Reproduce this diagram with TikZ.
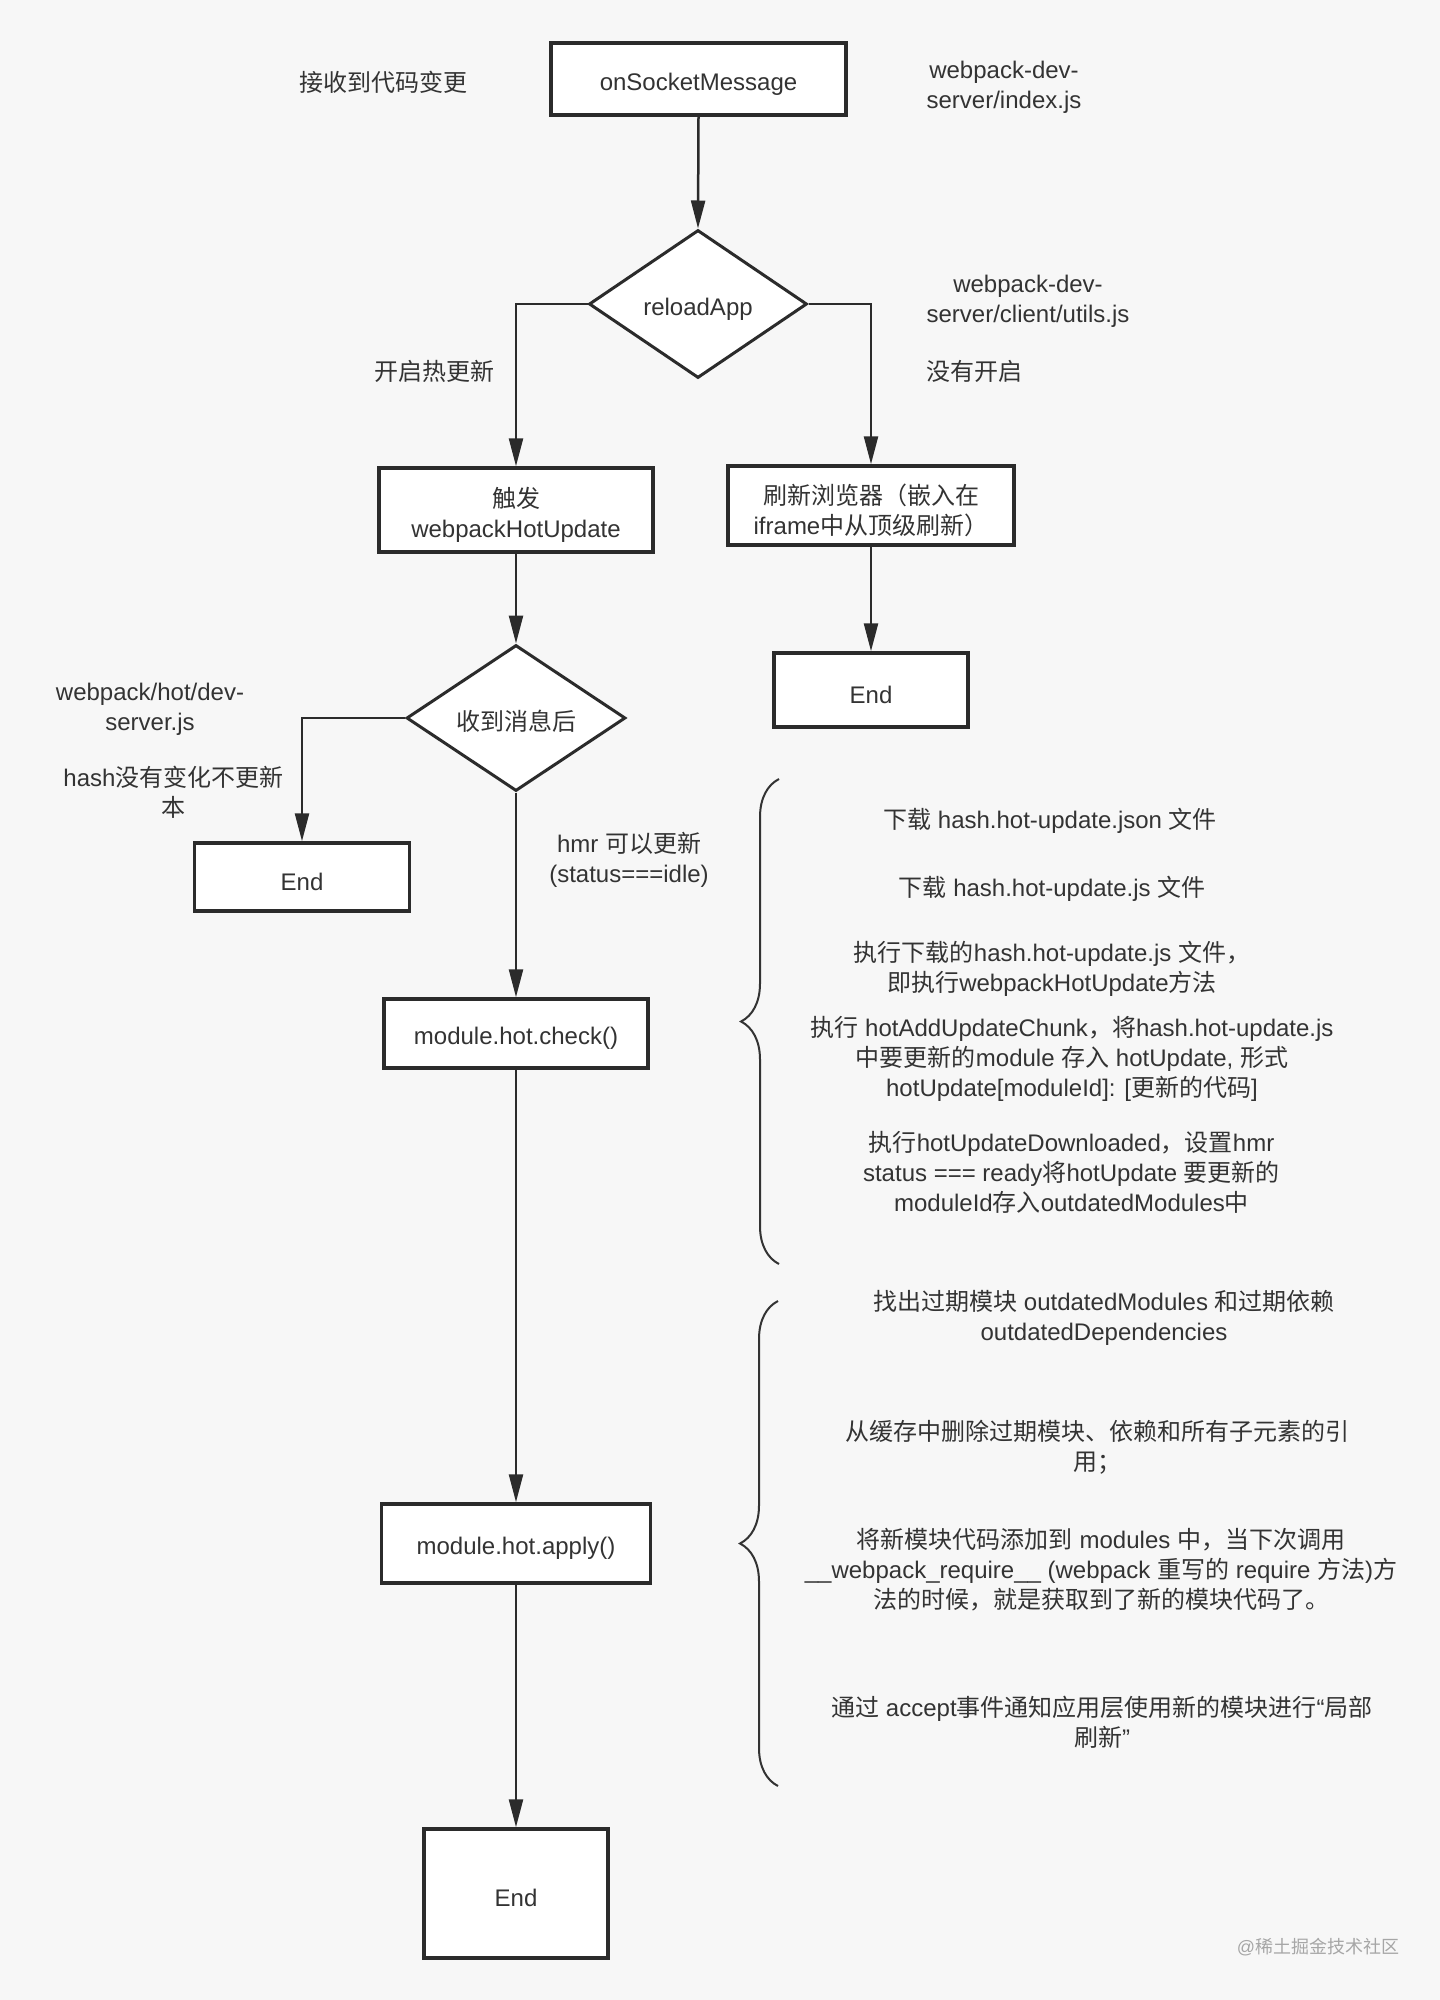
\documentclass[tikz,border=0pt]{standalone}
\usepackage{fontspec}
\setmainfont{Liberation Sans}
\newfontfamily\cjkfont{Noto Sans CJK SC}
\newfontfamily\latfont{Liberation Sans}
\usetikzlibrary{arrows.meta,shapes.geometric,decorations.pathreplacing}
\newXeTeXintercharclass\mycjkclass
\makeatletter
\newcount\my@c
\def\my@setrange#1#2{\my@c=#1\relax\loop\ifnum\my@c<#2\relax\XeTeXcharclass\my@c=\mycjkclass\advance\my@c by 1\relax\repeat}
\my@setrange{"3000}{"3040}
\my@setrange{"4E00}{"A000}
\my@setrange{"FF00}{"FFF0}
\makeatother
\XeTeXinterchartoks 0 \mycjkclass = {\cjkfont}
\XeTeXinterchartoks 4095 \mycjkclass = {\cjkfont}
\XeTeXinterchartoks \mycjkclass 0 = {\latfont}
\XeTeXinterchartoks \mycjkclass 4095 = {\latfont}
\XeTeXinterchartokenstate=1
\definecolor{bg}{HTML}{F7F7F7}
\definecolor{ln}{HTML}{2B2B2B}
\definecolor{tx}{HTML}{333333}
\begin{document}
\begin{tikzpicture}[x=1pt,y=-1pt,
  txt/.style={align=center,text=tx,inner sep=0pt,font=\fontsize{24}{30}\selectfont},
  box/.style={draw=ln,fill=white,line width=3.5pt,inner sep=0pt},
  dia/.style={diamond,draw=ln,fill=white,line width=3pt,inner sep=0pt},
  conn/.style={draw=ln,line width=2.5pt,-{Triangle[length=28pt,width=14pt]}},
  brc/.style={draw=tx,line width=2pt,decorate,decoration={brace,amplitude=38pt}}]
\fill[bg] (0,0) rectangle (1440,2000);
\useasboundingbox (0,0) rectangle (1440,2000);
% boxes
\node[box,minimum width=295pt,minimum height=72pt] (osm) at (698.5,79) {};
\node[dia,minimum width=218pt,minimum height=148pt] (reload) at (698,304) {};
\node[box,minimum width=274pt,minimum height=84pt] (hot) at (516,510) {};
\node[box,minimum width=286pt,minimum height=79pt] (refresh) at (871,505.5) {};
\node[box,minimum width=194pt,minimum height=74pt] (end1) at (871,690) {};
\node[dia,minimum width=219pt,minimum height=146pt] (recv) at (516,718) {};
\node[box,minimum width=215pt,minimum height=68pt] (end2) at (302,877) {};
\node[box,minimum width=264pt,minimum height=69pt] (check) at (516,1033.5) {};
\node[box,minimum width=269pt,minimum height=79pt] (apply) at (516,1543.5) {};
\node[box,minimum width=184pt,minimum height=129pt] (end3) at (516,1893.5) {};
% box texts
\node[txt] (osmt) at (698.5,84) {onSocketMessage};
\node[txt] (reloadt) at (698,309) {reloadApp};
\node[txt] (hott) at (516,515) {触发\\webpackHotUpdate};
\node[txt] (refresht) at (871,510) {刷新浏览器（嵌入在\\iframe中从顶级刷新）};
\node[txt] (end1t) at (871,695) {End};
\node[txt] (recvt) at (516,721) {收到消息后};
\node[txt] (end2t) at (302,882) {End};
\node[txt] (checkt) at (516,1038) {module.hot.check()};
\node[txt] (applyt) at (516,1548) {module.hot.apply()};
\node[txt] (end3t) at (516,1898) {End};
% connectors
\draw[conn] (osm.south) -- (reload.north);
\draw[conn] (reload.west) -| (hot.north);
\draw[conn] (reload.east) -| (refresh.north);
\draw[conn] (hot.south) -- (recv.north);
\draw[conn] (refresh.south) -- (end1.north);
\draw[conn] (recv.west) -| (end2.north);
\draw[conn] (recv.south) -- (check.north);
\draw[conn] (check.south) -- (apply.north);
\draw[conn] (apply.south) -- (end3.north);
% labels
\node[txt] (l1) at (383,82) {接收到代码变更};
\node[txt] (l2) at (1004,87) {webpack-dev-\\server/index.js};
\node[txt] (l3) at (1028,301) {webpack-dev-\\server/client/utils.js};
\node[txt] (l4) at (434,371) {开启热更新};
\node[txt] (l5) at (974,371) {没有开启};
\node[txt] (l6) at (150,709) {webpack/hot/dev-\\server.js};
\node[txt] (l7) at (173.5,792) {hash没有变化不更新\\本};
\node[txt] (l8) at (629,860) {hmr 可以更新\\(status===idle)};
% braces
\coordinate (b1a) at (779,1264);
\coordinate (b1b) at (779,779);
\coordinate (b2a) at (778,1786);
\coordinate (b2b) at (778,1301);
\draw[brc] (b1a) -- (b1b);
\draw[brc] (b2a) -- (b2b);
% right texts
\node[txt] (r1) at (1050,821) {下载 hash.hot-update.json 文件};
\node[txt] (r2) at (1052,889) {下载 hash.hot-update.js 文件};
\node[txt] (r3) at (1052,968.5) {执行下载的hash.hot-update.js 文件，\\即执行webpackHotUpdate方法};
\node[txt] (r4) at (1072,1059) {执行 hotAddUpdateChunk，将hash.hot-update.js\\中要更新的module 存入 hotUpdate, 形式\\hotUpdate[moduleId]: [更新的代码]};
\node[txt] (r5) at (1071.5,1172) {执行hotUpdateDownloaded，设置hmr\\status === ready将hotUpdate 要更新的\\moduleId存入outdatedModules中};
\node[txt] (s1) at (1104,1318) {找出过期模块 outdatedModules 和过期依赖\\outdatedDependencies};
\node[txt] (s2) at (1097,1447) {从缓存中删除过期模块、依赖和所有子元素的引\\用；};
\node[txt] (s3) at (1101,1570) {将新模块代码添加到 modules 中，当下次调用\\\_\_webpack\_require\_\_ (webpack 重写的 require 方法)方\\法的时候，就是获取到了新的模块代码了。};
\node[txt] (s4) at (1102,1722) {通过 accept事件通知应用层使用新的模块进行“局部\\刷新”};
\node[txt,text=gray!70,font=\fontsize{18}{22}\selectfont] (wm) at (1318,1947) {@稀土掘金技术社区};
\end{tikzpicture}
\end{document}
